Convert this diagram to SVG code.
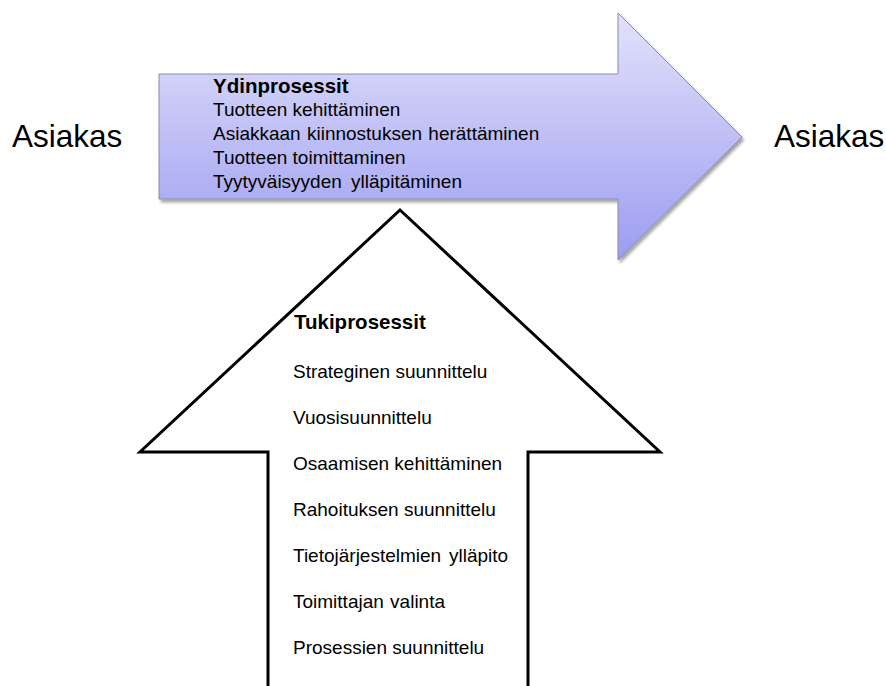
<svg xmlns="http://www.w3.org/2000/svg" width="886" height="686" viewBox="0 0 886 686">
  <style>
    text { font-family: "Liberation Sans", Arial, sans-serif; fill: #000; }
    .side { font-size: 31.5px; }
    .item { font-size: 19px; }
    .head { font-size: 20.5px; font-weight: bold; }
    .outline { fill: #fff; stroke: #000; stroke-width: 3; stroke-linejoin: miter; }
  </style>
  <defs>
    <linearGradient id="coreFill" gradientUnits="userSpaceOnUse" x1="0" y1="13" x2="0" y2="260">
      <stop offset="0" stop-color="#e2e2fb"/>
      <stop offset="1" stop-color="#9c9cf1"/>
    </linearGradient>
    <filter id="shadow" x="-5%" y="-5%" width="115%" height="120%">
      <feDropShadow dx="2" dy="3" stdDeviation="1.8" flood-color="#000" flood-opacity="0.35"/>
    </filter>
  </defs>

  <!-- customer on both ends -->
  <g id="customer-in">
    <text class="side" x="12" y="147">Asiakas</text>
  </g>
  <g id="customer-out">
    <text class="side" x="774" y="147">Asiakas</text>
  </g>

  <!-- core processes: horizontal block arrow -->
  <g id="core-processes">
    <path d="M159,74 L618,74 L618,13 L742,137 L618,260 L618,199 L159,199 Z" fill="url(#coreFill)" stroke="#8a8aa8" stroke-width="1" filter="url(#shadow)"/>
    <text class="head" x="213" y="93">Ydinprosessit</text>
    <text class="item" x="213" y="116">Tuotteen kehittäminen</text>
    <text class="item" x="213" y="140" word-spacing="1">Asiakkaan kiinnostuksen herättäminen</text>
    <text class="item" x="213" y="164">Tuotteen toimittaminen</text>
    <text class="item" x="213" y="188" word-spacing="4">Tyytyväisyyden ylläpitäminen</text>
  </g>

  <!-- support processes: upward block arrow -->
  <g id="support-processes">
    <path class="outline" d="M400,210 L660,452 L528,452 L528,690 L268,690 L268,452 L140,452 Z"/>
    <text class="head" x="294" y="329">Tukiprosessit</text>
    <text class="item" x="293" y="378">Strateginen suunnittelu</text>
    <text class="item" x="293" y="424">Vuosisuunnittelu</text>
    <text class="item" x="293" y="470">Osaamisen kehittäminen</text>
    <text class="item" x="293" y="516">Rahoituksen suunnittelu</text>
    <text class="item" x="293" y="562" word-spacing="2.5">Tietojärjestelmien ylläpito</text>
    <text class="item" x="293" y="608" word-spacing="1">Toimittajan valinta</text>
    <text class="item" x="293" y="654">Prosessien suunnittelu</text>
  </g>

  <g id="connectors"/>
</svg>
